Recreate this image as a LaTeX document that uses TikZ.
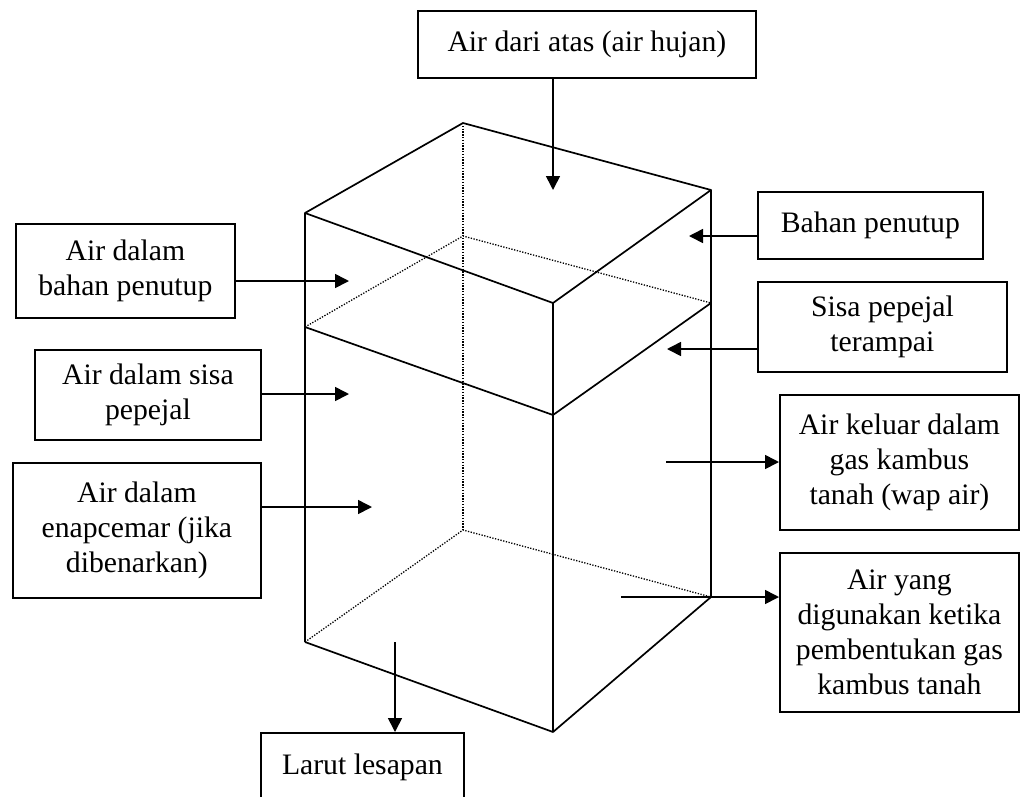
\documentclass[tikz,border=0pt]{standalone}
\usepackage{fontspec}
\setmainfont{Liberation Serif}
\usetikzlibrary{arrows.meta}
\begin{document}
\begin{tikzpicture}[x=1pt,y=-1pt,
  lbl/.style={draw, line width=1.8pt, inner sep=0pt, align=center, anchor=north west,
    font=\fontsize{29.7}{35}\selectfont},
  edge/.style={line width=1.7pt, line join=round},
  hid/.style={line width=1.3pt, dash pattern=on 1.3pt off 1.5pt},
  arr/.style={line width=1.6pt, -{Triangle[length=14pt,width=14pt]}}]
\useasboundingbox (0,0) rectangle (1020,796);
\clip (0,0) rectangle (1020,796);
% cuboid corners
\coordinate (T1) at (305,213); \coordinate (T2) at (463,123);
\coordinate (T3) at (711,190); \coordinate (T4) at (553,303);
\coordinate (M1) at (305,327); \coordinate (M2) at (463,236);
\coordinate (M3) at (711,303); \coordinate (M4) at (553,415);
\coordinate (B1) at (305,642); \coordinate (B2) at (463,530);
\coordinate (B3) at (711,597); \coordinate (B4) at (553,732);
% hidden edges
\draw[hid] (T2) -- (B2);
\draw[hid] (M1) -- (M2) -- (M3);
\draw[hid] (B1) -- (B2) -- (B3);
% visible edges
\draw[edge] (T1) -- (T2) -- (T3) -- (T4) -- cycle;
\draw[edge] (T1) -- (B1);
\draw[edge] (T3) -- (B3);
\draw[edge] (T4) -- (B4);
\draw[edge] (M1) -- (M4) -- (M3);
\draw[edge] (B1) -- (B4) -- (B3);
% boxes
\node[lbl, minimum width=338pt, minimum height=67pt] (rain) at (417,10) {Air dari atas (air hujan)};
\node[lbl, minimum width=225pt, minimum height=67pt] (bahan) at (757,191) {Bahan penutup};
\node[lbl, minimum width=249pt, minimum height=90pt] (sisa) at (757,281) {Sisa pepejal\\terampai};
\node[lbl, minimum width=239pt, minimum height=135pt] (keluar) at (779,394) {Air keluar dalam\\gas kambus\\tanah (wap air)};
\node[lbl, minimum width=239pt, minimum height=159pt] (yang) at (779,552) {Air yang\\digunakan ketika\\pembentukan gas\\kambus tanah};
\node[lbl, minimum width=219pt, minimum height=94pt] (adbp) at (15,223) {Air dalam\\bahan penutup};
\node[lbl, minimum width=226pt, minimum height=90pt] (adsp) at (34,349) {Air dalam sisa\\pepejal};
\node[lbl, minimum width=248pt, minimum height=135pt] (enap) at (12,462) {Air dalam\\enapcemar (jika\\dibenarkan)};
\node[lbl, minimum width=203pt, minimum height=68pt] (larut) at (260,732) {Larut lesapan};
% arrow end points
\coordinate (tTop) at (553,190);
\coordinate (tBahan) at (689,236);
\coordinate (tSisa) at (667,349);
\coordinate (tAdbp) at (349,281);
\coordinate (tAdsp) at (349,394);
\coordinate (tEnap) at (372,507);
\coordinate (sKeluar) at (666,462);
\coordinate (sYang) at (621,597);
\coordinate (sLarut) at (395,642);
% arrows
\draw[arr] (tTop |- rain.south) -- (tTop);
\draw[arr] (tBahan -| bahan.west) -- (tBahan);
\draw[arr] (tSisa -| sisa.west) -- (tSisa);
\draw[arr] (tAdbp -| adbp.east) -- (tAdbp);
\draw[arr] (tAdsp -| adsp.east) -- (tAdsp);
\draw[arr] (tEnap -| enap.east) -- (tEnap);
\draw[arr] (sKeluar) -- (sKeluar -| keluar.west);
\draw[arr] (sYang) -- (sYang -| yang.west);
\draw[arr] (sLarut) -- (sLarut |- larut.north);
\end{tikzpicture}
\end{document}
